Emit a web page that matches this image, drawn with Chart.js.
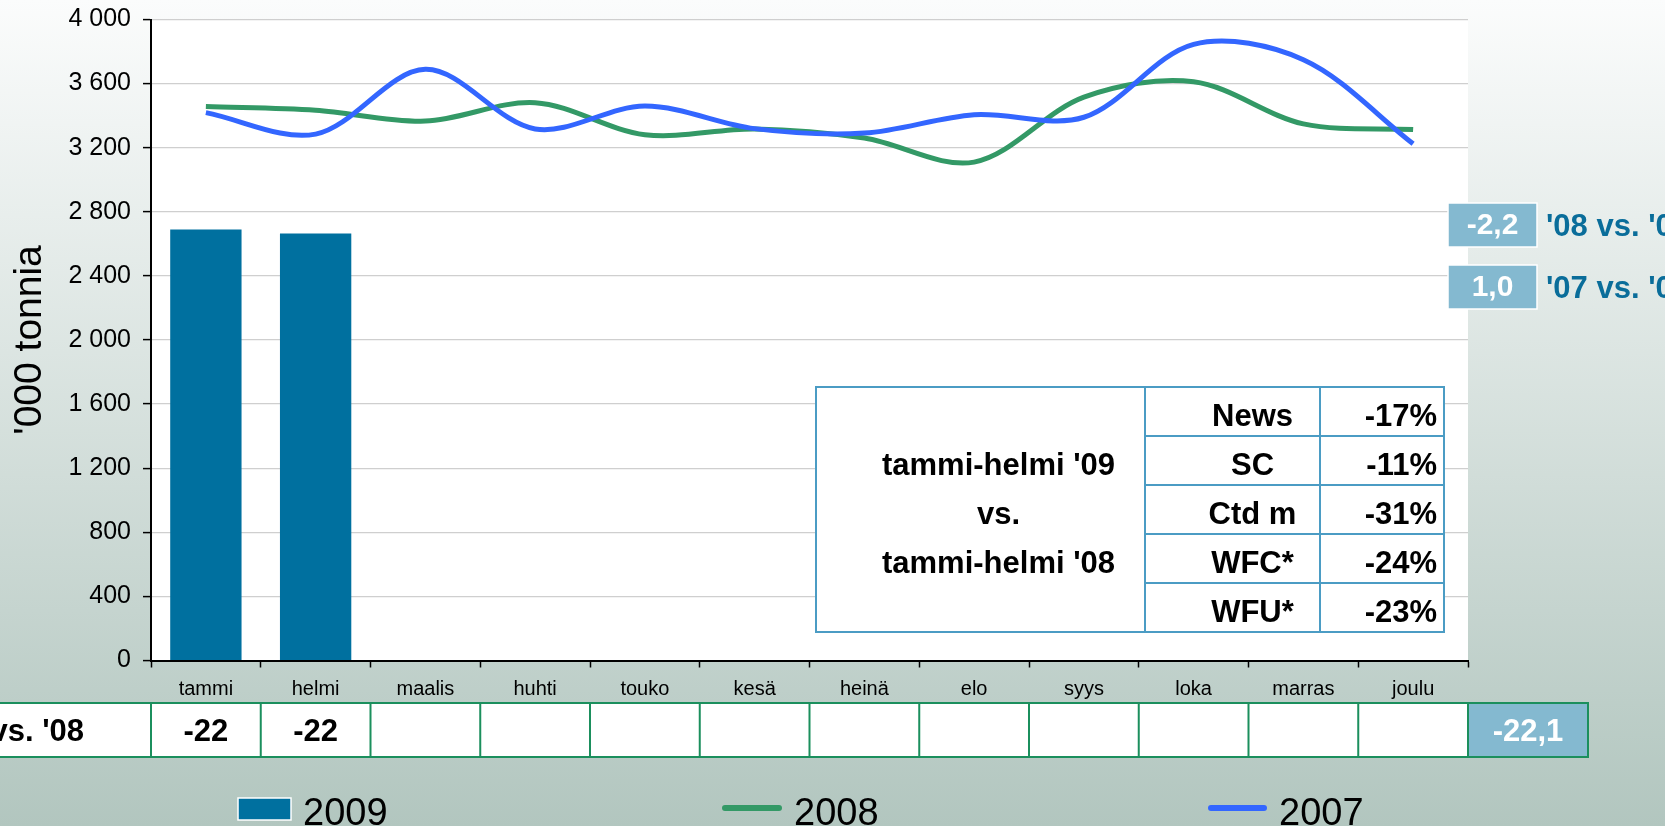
<!DOCTYPE html>
<html>
<head>
<meta charset="utf-8">
<script src="https://cdn.jsdelivr.net/npm/chart.js@4.4.0/dist/chart.umd.min.js"></script>
<style>
    html, body { margin: 0; padding: 0; }
    body {
        width: 1665px;
        height: 826px;
        overflow: hidden;
        background: linear-gradient(to bottom, #fbfcfc 0%, #b2c6bf 100%);
    }
    #wrap { position: relative; width: 1665px; height: 826px; }
</style>
</head>
<body>
<div id="wrap"><canvas id="chart" width="1665" height="826"></canvas></div>
<script>
// Monthly tonnage ('000 t)
const months = ['tammi', 'helmi', 'maalis', 'huhti', 'touko', 'kesä', 'heinä', 'elo', 'syys', 'loka', 'marras', 'joulu'];
const tonnes2009 = [2690, 2665, null, null, null, null, null, null, null, null, null, null];
const tonnes2008 = [3457, 3434, 3366, 3481, 3281, 3317, 3260, 3110, 3515, 3611, 3349, 3313];
const tonnes2007 = [3419, 3285, 3689, 3317, 3460, 3319, 3291, 3406, 3390, 3845, 3749, 3225];
const yTicks = { min: 0, max: 4000, step: 400 };

// % change row under the chart
const rowTitle = "'09 vs. '08";
const changeVs08 = ['-22', '-22', '', '', '', '', '', '', '', '', '', ''];
const changeTotal = '-22,1';

// boxes on the right
const sideValues = ['-2,2', '1,0'];
const sideLabels = ["'08 vs. '07", "'07 vs. '06"];

// segment table inside the plot
const segPeriod = ["tammi-helmi '09", 'vs.', "tammi-helmi '08"];
const segNames = ['News', 'SC', 'Ctd m', 'WFC*', 'WFU*'];
const segChanges = ['-17%', '-11%', '-31%', '-24%', '-23%'];

const FONT = "'Liberation Sans', Arial, sans-serif";
Chart.defaults.font.family = FONT;
Chart.defaults.color = '#000';

function spaced(v) {
    return String(v).replace(/\B(?=(\d{3})+(?!\d))/g, ' ');
}

function drawSegmentTable(ctx) {
    const left = 816, right = 1444, top = 387, bottom = 632;
    const c1 = 1145, c2 = 1320;
    const rowH = (bottom - top) / segNames.length;
    ctx.save();
    ctx.fillStyle = '#ffffff';
    ctx.fillRect(left, top, right - left, bottom - top);
    ctx.strokeStyle = '#4b9cc4';
    ctx.lineWidth = 2;
    ctx.strokeRect(left, top, right - left, bottom - top);
    ctx.beginPath();
    ctx.moveTo(c1, top); ctx.lineTo(c1, bottom);
    ctx.moveTo(c2, top); ctx.lineTo(c2, bottom);
    for (let i = 1; i < segNames.length; i++) {
        ctx.moveTo(c1, top + i * rowH); ctx.lineTo(right, top + i * rowH);
    }
    ctx.stroke();

    ctx.fillStyle = '#000';
    ctx.font = 'bold 31px ' + FONT;
    ctx.textBaseline = 'middle';
    ctx.textAlign = 'center';
    segPeriod.forEach((t, i) => {
        ctx.fillText(t, (left + c1) / 2 + 18, top + (i + 1.5) * rowH + 6);
    });
    segNames.forEach((t, i) => {
        ctx.textAlign = 'center';
        ctx.fillText(t, (c1 + c2) / 2 + 20, top + (i + 0.5) * rowH + 6);
        ctx.textAlign = 'right';
        ctx.fillText(segChanges[i], right - 7, top + (i + 0.5) * rowH + 6);
    });
    ctx.restore();
}

function drawChangeRow(chart) {
    const ctx = chart.ctx;
    const a = chart.chartArea;
    const top = 703, bottom = 757;
    const w = (a.right - a.left) / months.length;
    const totalRight = 1588;
    ctx.save();
    ctx.fillStyle = '#ffffff';
    ctx.fillRect(-5, top, a.right + 5, bottom - top);
    ctx.fillStyle = '#84b9d0';
    ctx.fillRect(a.right, top, totalRight - a.right, bottom - top);
    ctx.strokeStyle = '#1b8f5d';
    ctx.lineWidth = 2;
    ctx.strokeRect(-5, top, totalRight + 5, bottom - top);
    ctx.beginPath();
    for (let i = 0; i <= months.length; i++) {
        const x = a.left + i * w;
        ctx.moveTo(x, top); ctx.lineTo(x, bottom);
    }
    ctx.stroke();

    ctx.font = 'bold 31px ' + FONT;
    ctx.textBaseline = 'middle';
    ctx.fillStyle = '#000';
    ctx.textAlign = 'right';
    ctx.fillText(rowTitle, 84, (top + bottom) / 2 + 2);
    ctx.textAlign = 'center';
    changeVs08.forEach((t, i) => {
        if (t) ctx.fillText(t, a.left + (i + 0.5) * w, (top + bottom) / 2 + 2);
    });
    ctx.fillStyle = '#ffffff';
    ctx.fillText(changeTotal, (a.right + totalRight) / 2, (top + bottom) / 2 + 2);
    ctx.restore();
}

function drawSideBoxes(ctx) {
    const boxLeft = 1448, boxW = 89, boxH = 44;
    const tops = [203, 265];
    ctx.save();
    ctx.textBaseline = 'middle';
    tops.forEach((t, i) => {
        ctx.fillStyle = '#84b9d0';
        ctx.fillRect(boxLeft, t, boxW, boxH);
        ctx.strokeStyle = '#ffffff';
        ctx.lineWidth = 1.5;
        ctx.strokeRect(boxLeft, t, boxW, boxH);
        ctx.font = 'bold 30px ' + FONT;
        ctx.fillStyle = '#ffffff';
        ctx.textAlign = 'center';
        ctx.fillText(sideValues[i], boxLeft + boxW / 2, t + boxH / 2 + 1);
        ctx.font = 'bold 31px ' + FONT;
        ctx.fillStyle = '#0a6d9a';
        ctx.textAlign = 'left';
        ctx.fillText(sideLabels[i], 1546, t + boxH / 2 + 2);
    });
    ctx.restore();
}

function drawLegend(chart) {
    const ctx = chart.ctx;
    const starts = [238, 722, 1208];
    const markW = [53, 60, 59];
    const midY = 809;
    ctx.save();
    ctx.font = '38px ' + FONT;
    ctx.textBaseline = 'alphabetic';
    ctx.textAlign = 'left';
    chart.data.datasets.forEach((ds, i) => {
        const x = starts[i];
        if (ds.type === 'bar') {
            ctx.fillStyle = ds.backgroundColor;
            ctx.fillRect(x, midY - 11, markW[i], 22);
            ctx.strokeStyle = '#ffffff';
            ctx.lineWidth = 1.5;
            ctx.strokeRect(x, midY - 11, markW[i], 22);
        } else {
            ctx.strokeStyle = ds.borderColor;
            ctx.lineWidth = 6;
            ctx.lineCap = 'round';
            ctx.beginPath();
            ctx.moveTo(x + 3, midY - 1);
            ctx.lineTo(x + markW[i] - 3, midY - 1);
            ctx.stroke();
        }
        ctx.fillStyle = '#000';
        ctx.fillText(ds.label, x + markW[i] + 12, 825);
    });
    ctx.restore();
}

const extras = {
    id: 'extras',
    beforeDraw(chart) {
        const {ctx, chartArea: a} = chart;
        ctx.save();
        ctx.fillStyle = '#ffffff';
        ctx.fillRect(a.left, a.top, a.right - a.left, a.bottom - a.top);
        ctx.restore();
    },
    afterDraw(chart) {
        drawSegmentTable(chart.ctx);
        drawChangeRow(chart);
        drawSideBoxes(chart.ctx);
        drawLegend(chart);
    }
};

new Chart(document.getElementById('chart'), {
    data: {
        labels: months,
        datasets: [
            {
                type: 'bar',
                label: '2009',
                data: tonnes2009,
                backgroundColor: '#00709f',
                categoryPercentage: 0.65,
                barPercentage: 1,
                order: 3
            },
            {
                type: 'line',
                label: '2008',
                data: tonnes2008,
                borderColor: '#339966',
                borderWidth: 5,
                tension: 0.33,
                pointRadius: 0,
                fill: false,
                order: 2
            },
            {
                type: 'line',
                label: '2007',
                data: tonnes2007,
                borderColor: '#3366ff',
                borderWidth: 5,
                tension: 0.33,
                pointRadius: 0,
                fill: false,
                order: 1
            }
        ]
    },
    options: {
        responsive: false,
        animation: false,
        layout: { padding: { left: 0, right: 197, top: 19.5, bottom: 0 } },
        plugins: {
            legend: { display: false },
            tooltip: { enabled: false }
        },
        scales: {
            x: {
                offset: true,
                grid: { offset: true, drawOnChartArea: false, tickColor: '#000', tickLength: 7, tickWidth: 1.5 },
                border: { color: '#000', width: 2 },
                ticks: { font: { size: 20 }, color: '#000', padding: 10, maxRotation: 0 },
                afterFit: scale => { scale.height = 165.5; scale.paddingLeft = 0; scale.paddingRight = 0; }
            },
            y: {
                min: yTicks.min,
                max: yTicks.max,
                grid: { color: '#cfcfcf', lineWidth: 1.2, tickColor: '#000', tickLength: 8, tickWidth: 1.5 },
                border: { color: '#000', width: 2 },
                ticks: {
                    stepSize: yTicks.step,
                    font: { size: 25 },
                    color: '#000',
                    padding: 12,
                    callback: v => spaced(v)
                },
                title: {
                    display: true,
                    text: "'000 tonnia",
                    font: { size: 39 },
                    color: '#000',
                    padding: { top: 7, bottom: 0 }
                },
                afterFit: scale => { scale.width = 151; scale.paddingTop = 0; scale.paddingBottom = 0; }
            }
        }
    },
    plugins: [extras]
});
</script>
</body>
</html>
